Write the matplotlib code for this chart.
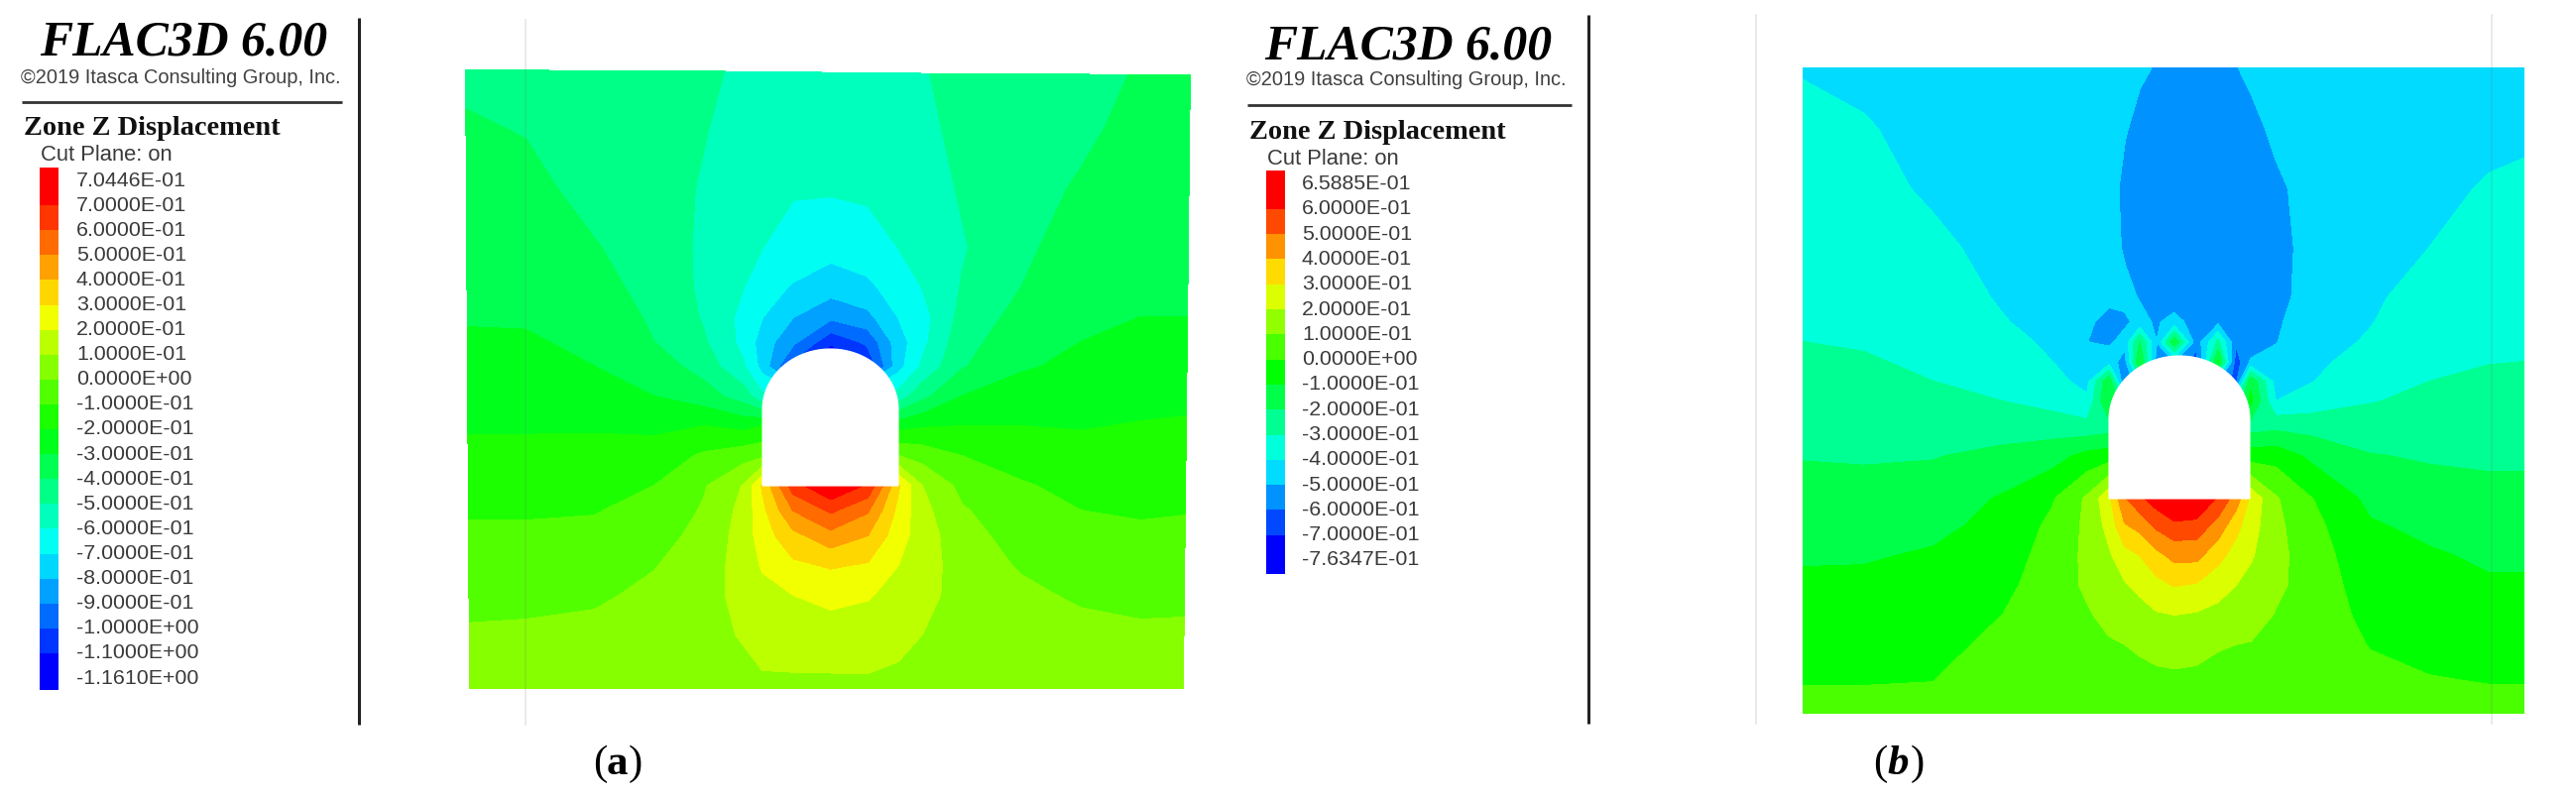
import colorsys
import numpy as np
import matplotlib
matplotlib.use("Agg")
import matplotlib.pyplot as plt

# ---------- legend data ----------
LABELS_A = ["7.0446E-01","7.0000E-01","6.0000E-01","5.0000E-01","4.0000E-01","3.0000E-01","2.0000E-01",
            "1.0000E-01","0.0000E+00","-1.0000E-01","-2.0000E-01","-3.0000E-01","-4.0000E-01","-5.0000E-01",
            "-6.0000E-01","-7.0000E-01","-8.0000E-01","-9.0000E-01","-1.0000E+00","-1.1000E+00","-1.1610E+00"]
LABELS_B = ["6.5885E-01","6.0000E-01","5.0000E-01","4.0000E-01","3.0000E-01","2.0000E-01","1.0000E-01",
            "0.0000E+00","-1.0000E-01","-2.0000E-01","-3.0000E-01","-4.0000E-01","-5.0000E-01","-6.0000E-01",
            "-7.0000E-01","-7.6347E-01"]
LEVELS_A = [float(s) for s in LABELS_A][::-1]
LEVELS_B = [float(s) for s in LABELS_B][::-1]

# ---------- panel (a): displacement, one list per column ----------
ROWS_A = [72,130,190,250,290,320,345,370,400,430,460,490,515,540,570,600,640,694]
COLS_A = [470,530,600,660,710,750,769,800,838,875,906,930,970,1030,1090,1150,1197]
A0  = [-.42,-.39,-.37,-.34,-.32,-.31,-.285,-.26,-.235,-.21,-.175,-.14,-.11,-.085,-.055,-.025,.01,.06]
A1  = [-.45,-.405,-.375,-.345,-.325,-.31,-.29,-.27,-.24,-.21,-.175,-.14,-.11,-.085,-.055,-.025,.015,.065]
A2  = [-.47,-.45,-.43,-.395,-.37,-.345,-.32,-.30,-.25,-.21,-.17,-.135,-.105,-.08,-.05,-.015,.025,.08]
A3  = [-.49,-.47,-.455,-.44,-.43,-.415,-.40,-.35,-.30,-.22,-.16,-.10,-.07,-.04,-.005,.02,.05,.085]
A4  = [-.47,-.495,-.51,-.52,-.52,-.51,-.49,-.44,-.355,-.20,-.085,-.01,.01,.03,.05,.065,.08,.095]
A5  = [-.53,-.54,-.55,-.57,-.60,-.63,-.63,-.59,-.45,-.23,-.04,.105,.13,.14,.14,.13,.105,.08]
A6  = [-.54,-.56,-.58,-.60,-.66,-.70,-.75,-.74,-.58,-.20,-.02,.31,.27,.25,.21,.17,.12,.09]
A7  = [-.56,-.575,-.59,-.64,-.71,-.80,-.88,-1.05,-.60,-.15,.15,.65,.50,.37,.28,.20,.135,.085]
A8  = [-.56,-.57,-.59,-.665,-.76,-.88,-1.08,-1.30,-.60,-.10,.20,.80,.615,.465,.31,.23,.15,.08]
A9  = [-.56,-.57,-.58,-.65,-.72,-.83,-.98,-1.10,-.60,-.15,.15,.68,.51,.40,.29,.21,.14,.085]
A10 = [-.54,-.56,-.58,-.60,-.66,-.70,-.75,-.74,-.56,-.24,.0,.31,.27,.24,.20,.16,.115,.085]
A11 = [-.51,-.53,-.55,-.575,-.60,-.64,-.63,-.585,-.43,-.21,-.04,.10,.13,.15,.15,.13,.10,.08]
A12 = [-.46,-.47,-.49,-.51,-.495,-.47,-.44,-.41,-.30,-.20,-.10,-.03,.01,.035,.05,.065,.08,.09]
A13 = [-.46,-.45,-.435,-.42,-.40,-.365,-.335,-.31,-.26,-.20,-.145,-.09,-.065,-.04,-.01,.02,.055,.09]
A14 = [-.44,-.42,-.39,-.355,-.335,-.315,-.30,-.28,-.24,-.205,-.17,-.13,-.10,-.075,-.045,-.015,.03,.08]
A15 = [-.39,-.37,-.35,-.33,-.315,-.30,-.28,-.255,-.225,-.195,-.165,-.135,-.11,-.085,-.055,-.025,.015,.065]
A16 = [-.38,-.36,-.345,-.325,-.31,-.30,-.275,-.25,-.22,-.19,-.16,-.13,-.105,-.08,-.05,-.02,.015,.065]

# ---------- panel (b) ----------
ROWS_B = [69,130,190,250,300,325,345,365,385,405,430,460,503,530,560,590,620,650,685,719]
COLS_B = [1819,1880,1950,2020,2070,2105,2127,2143,2158,2175,2193,2215,2237,2255,2270,2295,2330,2390,2450,2510,2545]
B0  = [-.405,-.38,-.36,-.335,-.32,-.31,-.30,-.285,-.27,-.25,-.23,-.205,-.165,-.14,-.11,-.085,-.06,-.035,-.005,.02]
B1  = [-.43,-.39,-.37,-.345,-.325,-.315,-.305,-.295,-.28,-.26,-.235,-.21,-.165,-.14,-.11,-.08,-.06,-.03,-.005,.02]
B2  = [-.47,-.44,-.415,-.38,-.355,-.34,-.325,-.31,-.30,-.275,-.245,-.205,-.155,-.125,-.09,-.07,-.05,-.025,-.002,.02]
B3  = [-.48,-.465,-.45,-.43,-.41,-.395,-.375,-.355,-.33,-.30,-.245,-.175,-.09,-.07,-.05,-.025,-.0,.02,.045,.06]
B4  = [-.49,-.48,-.47,-.46,-.44,-.43,-.415,-.40,-.37,-.335,-.25,-.14,-.01,.02,.04,.05,.055,.06,.065,.06]
B5  = [-.48,-.47,-.465,-.46,-.47,-.485,-.50,-.47,-.43,-.38,-.27,-.07,.115,.12,.12,.115,.09,.07,.055,.05]
B6  = [-.47,-.47,-.47,-.47,-.48,-.53,-.515,-.45,-.12,-.10,-.25,-.05,.27,.23,.185,.155,.125,.09,.065,.05]
B7  = [-.48,-.495,-.52,-.51,-.48,-.515,-.47,-.55,-.62,-.30,-.10,.0,.49,.39,.26,.19,.14,.10,.07,.05]
B8  = [-.49,-.52,-.54,-.54,-.505,-.48,-.20,-.10,-.40,-.10,.0,.10,.57,.43,.30,.225,.16,.11,.08,.055]
B9  = [-.505,-.54,-.56,-.56,-.54,-.51,-.50,-.55,-.30,-.10,.10,.10,.65,.52,.37,.27,.19,.13,.08,.055]
B10 = [-.52,-.56,-.58,-.58,-.55,-.47,-.12,-.50,-.30,-.20,-.10,.10,.75,.57,.43,.305,.20,.135,.085,.055]
B11 = [-.54,-.57,-.59,-.59,-.56,-.54,-.57,-.65,-.40,-.20,-.10,.10,.72,.56,.43,.29,.19,.13,.08,.055]
B12 = [-.52,-.56,-.58,-.58,-.56,-.53,-.28,-.09,-.50,-.20,-.10,.10,.58,.46,.33,.24,.17,.105,.08,.055]
B13 = [-.505,-.55,-.57,-.57,-.56,-.56,-.59,-.66,-.65,-.30,-.10,.05,.45,.33,.26,.20,.14,.10,.07,.05]
B14 = [-.48,-.53,-.56,-.56,-.55,-.55,-.55,-.49,-.12,-.08,-.25,-.05,.27,.24,.21,.17,.14,.095,.07,.05]
B15 = [-.45,-.48,-.52,-.54,-.535,-.515,-.505,-.47,-.44,-.40,-.23,-.04,.11,.125,.13,.12,.095,.075,.06,.05]
B16 = [-.46,-.46,-.465,-.465,-.46,-.45,-.44,-.425,-.405,-.36,-.24,-.12,.005,.03,.05,.06,.065,.065,.06,.05]
B17 = [-.46,-.45,-.44,-.43,-.415,-.405,-.39,-.36,-.33,-.305,-.255,-.195,-.125,-.09,-.07,-.05,-.03,-.005,.025,.04]
B18 = [-.475,-.45,-.43,-.40,-.365,-.345,-.33,-.315,-.30,-.28,-.25,-.21,-.16,-.125,-.09,-.07,-.05,-.025,.003,.03]
B19 = [-.46,-.43,-.39,-.36,-.335,-.325,-.315,-.303,-.285,-.27,-.245,-.215,-.175,-.145,-.115,-.09,-.06,-.035,-.005,.025]
B20 = [-.46,-.42,-.38,-.355,-.33,-.32,-.31,-.30,-.285,-.265,-.245,-.215,-.175,-.145,-.115,-.09,-.06,-.035,-.005,.025]


def rainbow(n):
    return [colorsys.hsv_to_rgb((240.0 - 240.0 * i / (n - 1)) / 360.0, 1, 1) for i in range(n)]


fig = plt.figure(figsize=(25.98, 8.07), dpi=100)
ax = fig.add_axes([0, 0, 1, 1])
ax.set_xlim(0, 2598)
ax.set_ylim(807, 0)
ax.axis("off")

SANS = "Liberation Sans"
SERIF = "Liberation Serif"


def field(cols, rows, columns, levels, left=(0, 0), right=(0, 0), top=(0, 0)):
    n = len(levels) - 1
    c = rainbow(n)
    X, Y = np.meshgrid(np.array(cols, float), np.array(rows, float))
    Z = np.array(columns, float).T
    f = (Y - Y[0, 0]) / (Y[-1, 0] - Y[0, 0])
    X[:, 0] += left[0] + (left[1] - left[0]) * f[:, 0]
    X[:, -1] += right[0] + (right[1] - right[0]) * f[:, 0]
    Y[0, :] += np.linspace(top[0], top[1], len(cols))
    cs = ax.contourf(X, Y, Z, levels=levels, colors=[c[0]] + c + [c[-1]], extend="both", zorder=1)
    cs.set_edgecolor("face")
    cs.set_linewidth(0.6)


def tunnel(x0, x1, top, spring, floor):
    t = np.linspace(np.pi, 0, 80)
    cx, rx = (x0 + x1) / 2, (x1 - x0) / 2
    ax.fill(np.r_[cx + rx * np.cos(t), x1, x0],
            np.r_[spring - (spring - top) * np.sin(t), floor, floor],
            color="white", lw=0.8, ec="white", zorder=2)


def legend(ox, oy, labels, bar_x, bar_top, first, step, bar_bottom, hr, flac_x, copy_x, zone_x):
    n = len(labels) - 1
    c = rainbow(n)
    ys = [bar_top, first + step] + [first + step * (i + 1) for i in range(1, n - 1)] + [bar_bottom]
    for i in range(n):
        ax.bar(bar_x, ys[i + 1] - ys[i] + 0.3, bottom=ys[i], width=19, align="edge", color=c[n - 1 - i], lw=0, zorder=3)
    for i, s in enumerate(labels):
        ax.text(ox, first + step * i, s, family=SANS, fontsize=15.4, color="#3a3a3a", va="center", ha="left", zorder=4)
    ax.text(flac_x, 44 + oy, "FLAC3D 6.00", family=SERIF, weight="bold", style="italic", fontsize=35.8,
            va="center", ha="left", color="black")
    ax.text(copy_x, 78 + oy, "\u00a92019 Itasca Consulting Group, Inc.", family=SANS, fontsize=14.4,
            va="center", ha="left", color="#404040")
    ax.plot(hr, [103 + oy, 103 + oy], color="#333333", lw=2.0, solid_capstyle="butt")
    ax.text(zone_x, 130 + oy, "Zone Z Displacement", family=SERIF, weight="bold", fontsize=20.4,
            va="center", ha="left", color="#111111")
    ax.text(bar_x + 1, 157 + oy, "Cut Plane: on", family=SANS, fontsize=15.8, va="center", ha="left", color="#3a3a3a")


field(COLS_A, ROWS_A, [A0, A1, A2, A3, A4, A5, A6, A7, A8, A9, A10, A11, A12, A13, A14, A15, A16],
      LEVELS_A, left=(0, 4), right=(3, -4), top=(-1, 4))
field(COLS_B, ROWS_B, [B0, B1, B2, B3, B4, B5, B6, B7, B8, B9, B10, B11, B12, B13, B14, B15, B16, B17, B18, B19, B20],
      LEVELS_B)
tunnel(769, 906, 352, 413, 490)
tunnel(2127, 2269, 359, 423, 503)

legend(77, 0, LABELS_A, 40, 169, 182, 25.1, 696, [22, 345], 40, 21, 24)
legend(1313, 3, LABELS_B, 1277, 172, 185.5, 25.3, 579, [1258, 1585], 1275, 1257, 1260)

# divider and faint frame lines
ax.plot([362, 362], [18, 731], color="#222222", lw=2.2, solid_capstyle="butt", zorder=5)
ax.plot([1602, 1602], [15, 730], color="#222222", lw=2.2, solid_capstyle="butt", zorder=5)
for xv, y0, y1 in [(530, 20, 731), (1771, 15, 730), (2513, 15, 730)]:
    ax.plot([xv, xv], [y0, y1], color="#777777", alpha=0.18, lw=1.2, zorder=5)

# captions
for parts in [[(598, "(", "normal", "normal"), (612, "a", "bold", "normal"), (634, ")", "normal", "normal")],
              [(1889, "(", "normal", "normal"), (1903, "b", "bold", "italic"), (1927, ")", "normal", "normal")]]:
    for xp, s, w, st in parts:
        ax.text(xp, 771, s, family=SERIF, weight=w, style=st, fontsize=31, va="center", ha="left", color="black")

fig.savefig("out.png", dpi=100, facecolor="white")
